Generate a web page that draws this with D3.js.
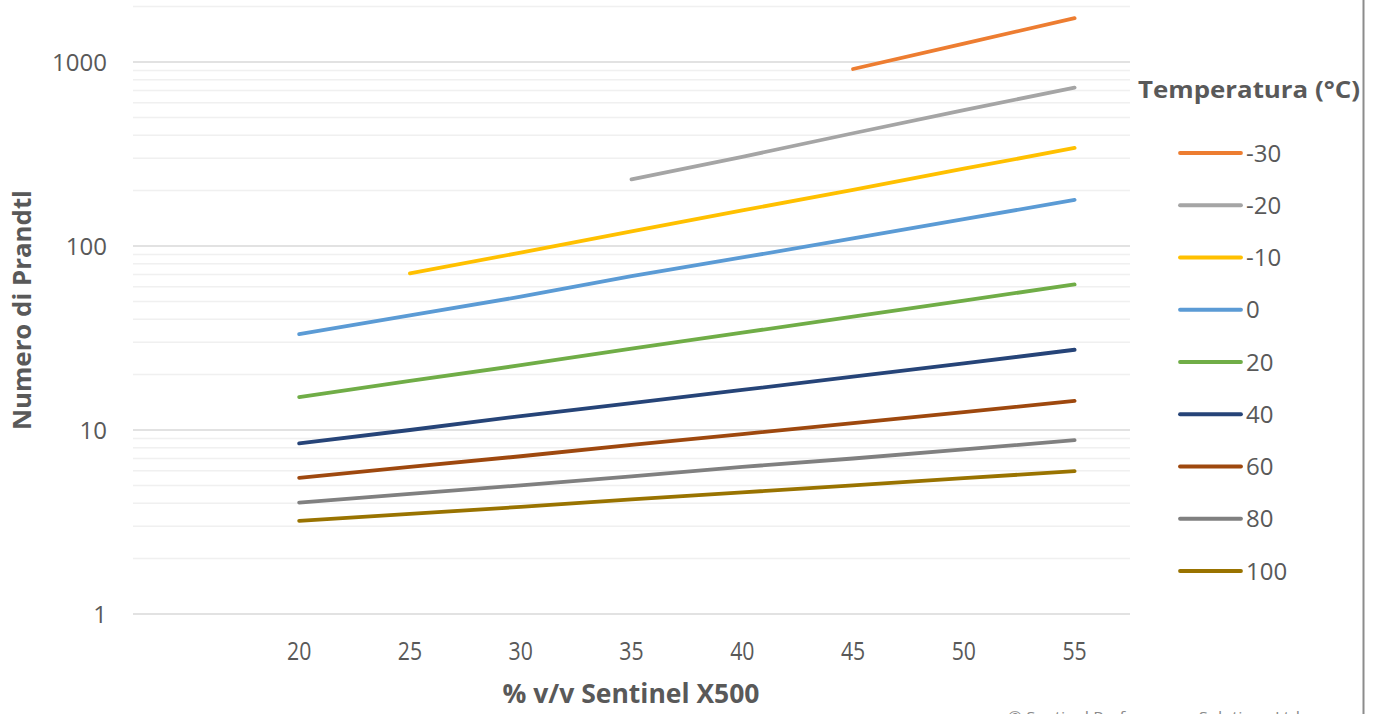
<!DOCTYPE html>
<html><head><meta charset="utf-8">
<script src="https://cdn.jsdelivr.net/npm/d3@7"></script>
<style>
html,body{margin:0;padding:0;background:#fff;overflow:hidden;}
svg{display:block;}
</style></head>
<body><svg id="c" width="1381" height="714"></svg>
<script>
const xValues = [20, 25, 30, 35, 40, 45, 50, 55];
const xTicks = [20, 25, 30, 35, 40, 45, 50, 55];
const yTicks = [1, 10, 100, 1000];
const seriesNames = ["-30", "-20", "-10", "0", "20", "40", "60", "80", "100"];
const seriesColors = ["#ED7D31", "#A5A5A5", "#FFC000", "#5B9BD5", "#70AD47", "#264478", "#9E480E", "#808080", "#997300"];
const sM30 = [null, null, null, null, null, 916, 1260, 1730];
const sM20 = [null, null, null, 230, 305, 410, 548, 726];
const sM10 = [null, 71, 92, 120, 156, 202, 263, 341];
const s0   = [33.2, 42, 53, 68.5, 86.6, 110, 140, 178];
const s20  = [15.1, 18.5, 22.5, 27.7, 33.8, 41.3, 50.5, 61.8];
const s40  = [8.45, 10, 11.9, 14, 16.5, 19.5, 23, 27.3];
const s60  = [5.5, 6.3, 7.2, 8.3, 9.5, 10.9, 12.5, 14.4];
const s80  = [4.03, 4.5, 5.0, 5.6, 6.3, 7.0, 7.85, 8.8];
const s100 = [3.21, 3.5, 3.82, 4.2, 4.58, 5.0, 5.47, 5.98];
const seriesValues = [sM30, sM20, sM10, s0, s20, s40, s60, s80, s100];

const svg = d3.select("#c");
const x = d3.scaleLinear().domain([12.5, 57.5]).range([133, 1130]);
const y = d3.scaleLog().domain([1, 1000]).range([614, 62]);
const FONT = "Open Sans, sans-serif";

// minor gridlines
const minor = [];
for (const dec of [1, 10, 100, 1000]) for (let m = 2; m <= 9; m++) minor.push(dec * m);
svg.append("g").selectAll("line").data(minor.filter(v => y(v) >= 0)).join("line")
  .attr("x1", x.range()[0]).attr("x2", x.range()[1])
  .attr("y1", d => y(d)).attr("y2", d => y(d))
  .attr("stroke", "#f0f0f0").attr("stroke-width", 1.5);
// major gridlines
svg.append("g").selectAll("line").data(yTicks).join("line")
  .attr("x1", x.range()[0]).attr("x2", x.range()[1])
  .attr("y1", d => y(d)).attr("y2", d => y(d))
  .attr("stroke", "#d9d9d9").attr("stroke-width", 1.5);

// y tick labels
svg.append("g").selectAll("text").data(yTicks).join("text")
  .attr("x", 107).attr("y", d => y(d)).attr("dy", "0.36em")
  .attr("text-anchor", "end").attr("fill", "#595959")
  .attr("font-family", FONT).attr("font-size", 24)
  .text(d => d);

// x tick labels
svg.append("g").selectAll("text").data(xTicks).join("text")
  .attr("transform", d => `translate(${x(d)},660) scale(0.85,1)`)
  .attr("text-anchor", "middle").attr("fill", "#595959")
  .attr("font-family", FONT).attr("font-size", 25)
  .text(d => d);

// axis titles
svg.append("text").attr("x", 631).attr("y", 703)
  .attr("text-anchor", "middle").attr("fill", "#595959")
  .attr("font-family", FONT).attr("font-weight", "bold").attr("font-size", 26)
  .attr("textLength", 257).attr("lengthAdjust", "spacingAndGlyphs")
  .text("% v/v Sentinel X500");
svg.append("text").attr("transform", "translate(31,310) rotate(-90)")
  .attr("text-anchor", "middle").attr("fill", "#595959")
  .attr("font-family", FONT).attr("font-weight", "bold").attr("font-size", 25)
  .attr("textLength", 240).attr("lengthAdjust", "spacingAndGlyphs")
  .text("Numero di Prandtl");

// lines
const line = d3.line().defined(d => d[1] != null).x(d => x(d[0])).y(d => y(d[1]));
svg.append("g").selectAll("path").data(seriesValues).join("path")
  .attr("d", vals => line(xValues.map((xv, i) => [xv, vals[i]])))
  .attr("fill", "none").attr("stroke", (d, i) => seriesColors[i])
  .attr("stroke-width", 3.8).attr("stroke-linecap", "round").attr("stroke-linejoin", "round");

// legend
svg.append("text").attr("x", 1138).attr("y", 98).attr("fill", "#595959")
  .attr("font-family", FONT).attr("font-weight", "bold").attr("font-size", 24)
  .attr("textLength", 222).attr("lengthAdjust", "spacingAndGlyphs")
  .text("Temperatura (°C)");
const lg = svg.append("g").selectAll("g").data(seriesNames).join("g")
  .attr("transform", (d, i) => `translate(0,${153 + i * 52.25})`);
lg.append("line").attr("x1", 1180).attr("x2", 1241).attr("y1", 0).attr("y2", 0)
  .attr("stroke", (d, i) => seriesColors[i]).attr("stroke-width", 3.8).attr("stroke-linecap", "round");
lg.append("text").attr("x", 1246).attr("dy", "0.36em").attr("fill", "#595959")
  .attr("font-family", FONT).attr("font-size", 24)
  .text(d => d);

// right border
svg.append("line").attr("x1", 1363.5).attr("x2", 1363.5).attr("y1", 0).attr("y2", 714)
  .attr("stroke", "#8c8c8c").attr("stroke-width", 2);

// clipped footnote (cut off by the image edge, as in the reference)
svg.append("text").attr("x", 1008).attr("y", 722).attr("fill", "#8a8a8a")
  .attr("font-family", FONT).attr("font-size", 14)
  .attr("textLength", 292).attr("lengthAdjust", "spacingAndGlyphs")
  .text("© Sentinel Performance Solutions Ltd");
</script></body></html>
